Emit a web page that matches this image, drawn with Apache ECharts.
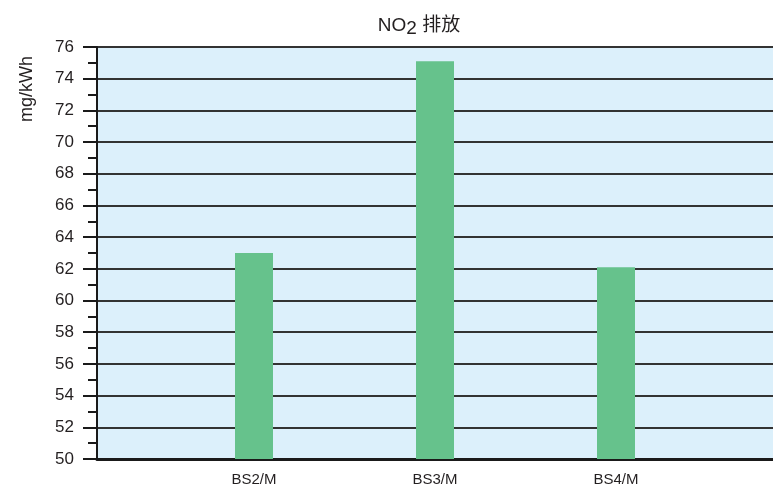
<!DOCTYPE html>
<html>
<head>
<meta charset="utf-8">
<script src="https://cdn.jsdelivr.net/npm/echarts@6/dist/echarts.min.js"></script>
<style>
  html, body { margin: 0; padding: 0; background: #ffffff; }
  #chart { width: 773px; height: 487px; }
</style>
</head>
<body>
<div id="chart"></div>
<script>
// Emission standards and NO2 output per kWh
var categories = ['BS2/M', 'BS3/M', 'BS4/M'];
var no2Values = [63, 75.1, 62.1];
var yMin = 50, yMax = 76, yStep = 2;
var titleParts = ['NO', '2', ' 排放'];
var unitLabel = 'mg/kWh';

var textColor = '#231f20';
var fontFamily = '"Liberation Sans", Arial, "Noto Sans CJK SC", sans-serif';

var chart = echarts.init(document.getElementById('chart'), null, { renderer: 'canvas' });

var option = {
  animation: false,
  backgroundColor: '#ffffff',
  title: {
    text: '{n|' + titleParts[0] + '}{s|' + titleParts[1] + '}{n|' + titleParts[2] + '}',
    left: 414,
    top: 8,
    textAlign: 'center',
    textStyle: {
      fontWeight: 'normal',
      rich: {
        n: { fontSize: 19, fontWeight: 'normal', color: textColor, fontFamily: fontFamily },
        s: { fontSize: 19, fontWeight: 'normal', color: textColor, fontFamily: fontFamily, padding: [6, 0, 0, 0] }
      }
    }
  },
  graphic: [{
    type: 'text',
    x: 27,
    y: 89,
    rotation: Math.PI / 2,
    style: {
      text: unitLabel,
      fill: textColor,
      font: '18px ' + fontFamily,
      align: 'center',
      verticalAlign: 'middle'
    }
  }],
  grid: [
    // full plot frame: background, value axis, gridlines
    { left: 97, top: 47, right: 0, bottom: 28, show: true, backgroundColor: '#dcf0fb', borderWidth: 0 },
    // bar lane
    { left: 163.5, width: 543, top: 47, bottom: 28 }
  ],
  xAxis: [
    {
      gridIndex: 0,
      type: 'category',
      data: [''],
      axisLine: { show: true, lineStyle: { color: '#1a1a1a', width: 3 } },
      axisTick: { show: false },
      axisLabel: { show: false },
      splitLine: { show: false }
    },
    {
      gridIndex: 1,
      type: 'category',
      data: categories,
      axisLine: { show: false },
      axisTick: { show: false },
      axisLabel: { fontSize: 15, color: textColor, fontFamily: fontFamily, margin: 13 },
      splitLine: { show: false }
    }
  ],
  yAxis: [
    {
      gridIndex: 0,
      type: 'value',
      min: yMin,
      max: yMax,
      interval: yStep,
      axisLine: { show: true, lineStyle: { color: '#1a1a1a', width: 2 } },
      axisTick: { show: true, inside: false, length: 14, lineStyle: { color: '#1a1a1a', width: 2 } },
      minorTick: { show: true, splitNumber: 2, length: 9, lineStyle: { color: '#1a1a1a', width: 2 } },
      axisLabel: { fontSize: 17, color: textColor, fontFamily: fontFamily, margin: 23 },
      splitLine: { show: true, lineStyle: { color: '#333333', width: 2 } }
    },
    {
      gridIndex: 1,
      type: 'value',
      min: yMin,
      max: yMax,
      interval: yStep,
      show: false,
      splitLine: { show: false }
    }
  ],
  series: [{
    type: 'bar',
    xAxisIndex: 1,
    yAxisIndex: 1,
    data: no2Values,
    barWidth: 38,
    itemStyle: { color: '#66c28c' },
    z: 5
  }]
};

chart.setOption(option);
</script>
</body>
</html>
